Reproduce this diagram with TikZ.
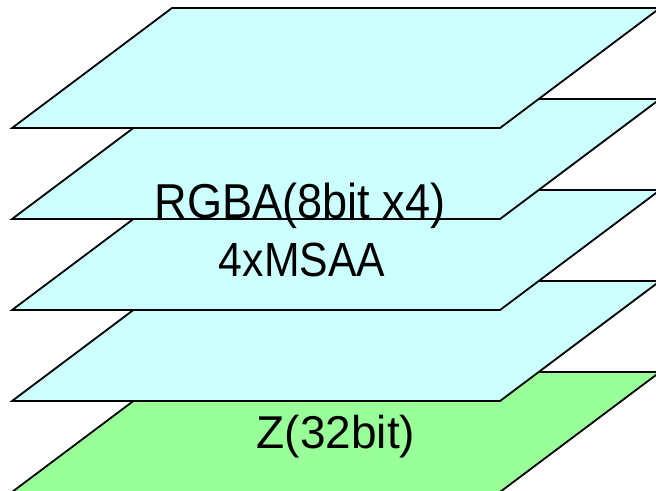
\documentclass[tikz,border=0pt]{standalone}
\usepackage{fontspec}
\setmainfont{Liberation Sans}
\definecolor{planecyan}{HTML}{CCFFFF}
\definecolor{planegreen}{HTML}{99FF99}
\begin{document}
\begin{tikzpicture}[x=1pt,y=-1pt,
  plane/.style={draw=black,line width=1.8pt,line join=miter},
  layertext/.style={inner sep=0pt,anchor=base,text=black}]
\useasboundingbox (0,0) rectangle (656,490);
\clip (0,0) rectangle (656,490);
% stacked planes, lowest first so each upper plane covers the one below
\foreach \k/\c in {4/planegreen,3/planecyan,2/planecyan,1/planecyan,0/planecyan}{
  \pgfmathsetmacro{\yt}{8+91*\k}
  \pgfmathsetmacro{\yb}{128+91*\k}
  \draw[plane,fill=\c] (12,\yb) -- (172,\yt) -- (660,\yt) -- (500,\yb) -- cycle;
}
% labels
\node[layertext,xscale=0.92,font=\fontsize{49}{58}\selectfont] (rgba) at (300,218) {RGBA(8bit x4)};
\node[layertext,xscale=0.89,font=\fontsize{48}{58}\selectfont] (msaa) at (302,276) {4xMSAA};
\node[layertext,xscale=1.0,font=\fontsize{46}{58}\selectfont] (zbuf) at (336,448) {Z(32bit)};
\end{tikzpicture}
\end{document}
